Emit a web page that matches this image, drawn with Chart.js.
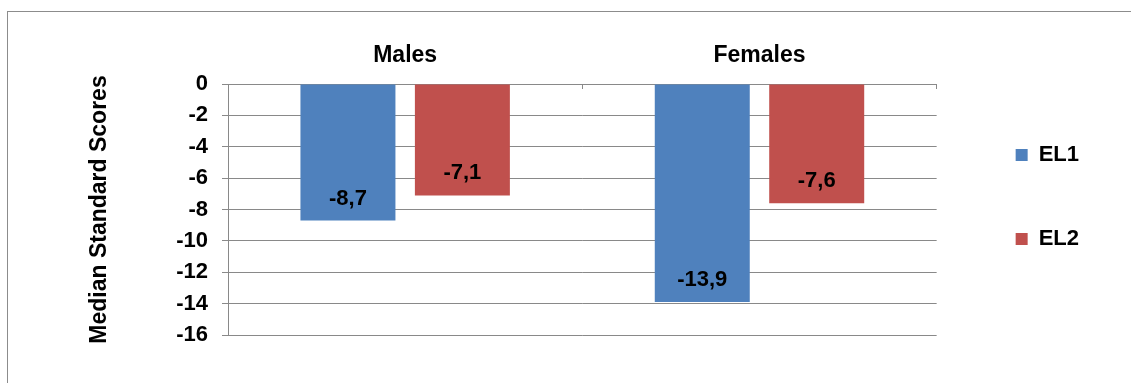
<!DOCTYPE html>
<html>
<head>
<meta charset="utf-8">
<script src="https://cdn.jsdelivr.net/npm/chart.js@4/dist/chart.umd.min.js"></script>
<style>
  body { margin: 0; background: #fff; }
  #wrap { position: relative; width: 1131px; height: 383px; overflow: hidden; }
  #frame { position: absolute; left: 7px; top: 11px; width: 1200px; height: 400px;
           border-left: 1px solid #8c8c8c; border-top: 1px solid #8c8c8c; }
  #chart { position: absolute; left: 0; top: 0; }
</style>
</head>
<body>
<div id="wrap">
  <div id="frame"></div>
  <canvas id="chart" width="1131" height="383"></canvas>
</div>
<script>
var groups = ["Males", "Females"];
var el1 = [-8.7, -13.9];
var el2 = [-7.1, -7.6];
var seriesNames = ["EL1", "EL2"];

var fontFamily = "'Liberation Sans', Arial, sans-serif";
var gridGray = "#898989";

// value labels sit just inside the end of each bar
var barValues = {
  id: "barValues",
  afterDatasetsDraw: function(chart) {
    var ctx = chart.ctx;
    ctx.save();
    ctx.font = "bold 22px " + fontFamily;
    ctx.fillStyle = "#000";
    ctx.textAlign = "center";
    ctx.textBaseline = "middle";
    chart.data.datasets.forEach(function(ds, i) {
      chart.getDatasetMeta(i).data.forEach(function(bar, j) {
        var v = ds.data[j];
        var txt = v.toFixed(1).replace(".", ",");
        ctx.fillText(txt, bar.x, bar.y - 22);
      });
    });
    ctx.restore();
  }
};

// empty strips that keep the plot clear of the legend and the bottom edge
function spacer(pos, size) {
  return {
    type: "linear",
    position: pos,
    grid: { display: false },
    border: { display: false },
    ticks: { display: false },
    afterFit: function(s) {
      if (pos === "right") s.width = size; else s.height = size;
    }
  };
}

var ctx = document.getElementById("chart").getContext("2d");

var chart = new Chart(ctx, {
  type: "bar",
  data: {
    labels: groups,
    datasets: [
      { label: seriesNames[0], backgroundColor: "#4F81BD", data: el1 },
      { label: seriesNames[1], backgroundColor: "#C0504D", data: el2 }
    ]
  },
  options: {
    responsive: false,
    animation: false,
    categoryPercentage: 0.646,
    barPercentage: 0.83,
    layout: { padding: { left: 82, top: 36, right: 42, bottom: 25 } },
    plugins: {
      tooltip: { enabled: false },
      legend: {
        position: "right",
        labels: {
          boxWidth: 12,
          boxHeight: 12,
          padding: 62,
          color: "#000",
          font: { family: fontFamily, size: 22, weight: "bold" }
        }
      }
    },
    scales: {
      x: {
        position: "top",
        grid: { drawOnChartArea: false, offset: true, tickLength: -5, color: gridGray },
        border: { color: gridGray },
        ticks: { color: "#000", padding: 20, font: { family: fontFamily, size: 23, weight: "bold" } },
        afterFit: function(s) { s.height = 48; }
      },
      y: {
        min: -16,
        max: 0,
        ticks: { stepSize: 2, color: "#000", padding: 14, font: { family: fontFamily, size: 22, weight: "bold" } },
        grid: { color: gridGray, tickLength: 6 },
        border: { color: gridGray },
        title: {
          display: true,
          text: "Median Standard Scores",
          color: "#000",
          font: { family: fontFamily, size: 23, weight: "bold" }
        },
        afterFit: function(s) { s.width = 146; }
      },
      gapRight: spacer("right", 17),
      gapBottom: spacer("bottom", 23)
    }
  },
  plugins: [barValues]
});
</script>
</body>
</html>
